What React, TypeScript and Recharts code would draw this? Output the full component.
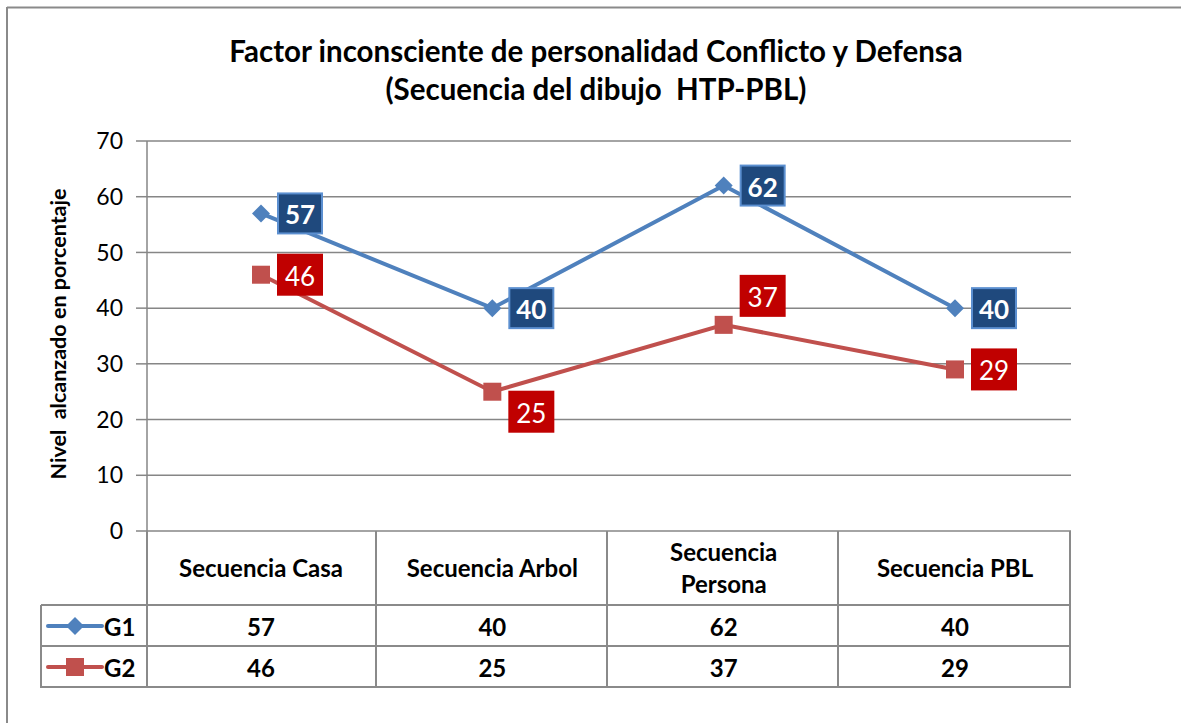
import { ComposedChart, Line, XAxis, YAxis, CartesianGrid } from "recharts";

const categories = ["Secuencia Casa", "Secuencia Arbol", "Secuencia Persona", "Secuencia PBL"];
const g1 = [57, 40, 62, 40];
const g2 = [46, 25, 37, 29];
const yTicks = [0, 10, 20, 30, 40, 50, 60, 70];

const data = categories.map((c, i) => ({ category: c, G1: g1[i], G2: g2[i] }));

// label box vertical shifts per point (relative to centred on the point)
const g2Shift = [0, 20, -29, 0];

const FONT = "Lato, 'Open Sans', sans-serif";
const GRID = "#868686";
const BLUE = "#4F81BD";
const RED = "#C0504D";

const Diamond = (props: any) => {
  const { cx, cy } = props;
  if (cx == null || cy == null) return null;
  const r = 9;
  return (
    <path
      d={`M${cx},${cy - r}L${cx + r},${cy}L${cx},${cy + r}L${cx - r},${cy}Z`}
      fill={BLUE}
    />
  );
};

const Square = (props: any) => {
  const { cx, cy } = props;
  if (cx == null || cy == null) return null;
  return <rect x={cx - 9} y={cy - 9} width={18} height={18} fill={RED} />;
};

const BoxLabel = (kind: "g1" | "g2") => (props: any) => {
  const { x, y, value, index } = props;
  const shift = kind === "g2" ? g2Shift[index] : 0;
  const bx = x + 17;
  const by = y - 20 + shift;
  return (
    <g>
      <rect
        x={bx}
        y={by}
        width={44}
        height={40}
        fill={kind === "g1" ? "#1F497D" : "#C00000"}
        stroke={kind === "g1" ? "#5B8FD0" : "#C00000"}
        strokeWidth={2}
      />
      <text
        x={bx + 22}
        y={by + 21}
        textAnchor="middle"
        dominantBaseline="central"
        fill="#fff"
        fontSize={26}
        fontWeight={kind === "g1" ? 700 : 400}
        fontFamily={FONT}
      >
        {value}
      </text>
    </g>
  );
};

const TableTick = (props: any) => {
  const { x, payload, index } = props;
  const name: string = payload.value;
  const lines = name === "Secuencia Persona" ? ["Secuencia", "Persona"] : [name];
  return (
    <g fontFamily={FONT} fontWeight={700} fontSize={24} fill="#000">
      {lines.map((l, i) => (
        <text
          key={l}
          x={x}
          y={lines.length === 1 ? 567 : 551 + i * 32}
          textAnchor="middle"
          dominantBaseline="central"
        >
          {l}
        </text>
      ))}
      <text x={x} y={626} textAnchor="middle" dominantBaseline="central">
        {g1[index]}
      </text>
      <text x={x} y={667} textAnchor="middle" dominantBaseline="central">
        {g2[index]}
      </text>
    </g>
  );
};

export default function App() {
  const tl = { stroke: "#8A8A8A", strokeWidth: 2 };
  return (
    <div style={{ position: "absolute", left: 0, top: 0, width: 1181, height: 723, background: "#fff" }}>
      <svg width={1181} height={723} style={{ position: "absolute", left: 0, top: 0 }}>
        <line x1={7} y1={7.5} x2={1181} y2={7.5} {...tl} />
        <line x1={7} y1={7} x2={7} y2={723} {...tl} />
        <text x={596} y={50} textAnchor="middle" dominantBaseline="central" fontFamily={FONT} fontWeight={700} fontSize={29.5}>
          Factor inconsciente de personalidad Conflicto y Defensa
        </text>
        <text x={596} y={88} textAnchor="middle" dominantBaseline="central" fontFamily={FONT} fontWeight={700} fontSize={29.5}>
          {"(Secuencia del dibujo \u00a0HTP-PBL)"}
        </text>
        <text
          x={58}
          y={334}
          transform="rotate(-90 58 334)"
          textAnchor="middle"
          dominantBaseline="central"
          fontFamily={FONT}
          fontWeight={700}
          fontSize={21.5}
        >
          {"Nivel \u00a0alcanzado en porcentaje"}
        </text>
      </svg>
      <div style={{ position: "absolute", left: 0, top: 0 }}>
        <ComposedChart
          width={1181}
          height={723}
          data={data}
          margin={{ top: 141, right: 110, bottom: 42, left: 87 }}
        >
          <CartesianGrid vertical={false} stroke={GRID} strokeWidth={1.5} />
          <XAxis
            dataKey="category"
            height={150}
            axisLine={false}
            tickLine={false}
            tick={<TableTick />}
            interval={0}
            padding={{ left: 114, right: 116 }}
          />
          <YAxis
            width={60}
            domain={[0, 70]}
            ticks={yTicks}
            tickSize={11}
            tickMargin={13}
            axisLine={{ stroke: GRID, strokeWidth: 1.5 }}
            tickLine={{ stroke: GRID, strokeWidth: 1.5 }}
            tick={{ fontSize: 23, fill: "#000", fontFamily: FONT }}
          />
          <Line
            dataKey="G1"
            stroke={BLUE}
            strokeWidth={4}
            dot={<Diamond />}
            activeDot={false}
            label={BoxLabel("g1")}
            isAnimationActive={false}
          />
          <Line
            dataKey="G2"
            stroke={RED}
            strokeWidth={4}
            dot={<Square />}
            activeDot={false}
            label={BoxLabel("g2")}
            isAnimationActive={false}
          />
        </ComposedChart>
      </div>
      <svg width={1181} height={723} style={{ position: "absolute", left: 0, top: 0, pointerEvents: "none" }}>
        <line x1={147} y1={531} x2={147} y2={688} {...tl} />
        <line x1={376} y1={531} x2={376} y2={688} {...tl} />
        <line x1={607} y1={531} x2={607} y2={688} {...tl} />
        <line x1={838} y1={531} x2={838} y2={688} {...tl} />
        <line x1={1070} y1={531} x2={1070} y2={688} {...tl} />
        <line x1={41} y1={605} x2={41} y2={688} {...tl} />
        <line x1={41} y1={605} x2={1071} y2={605} {...tl} />
        <line x1={41} y1={646} x2={1071} y2={646} {...tl} />
        <line x1={41} y1={687} x2={1071} y2={687} {...tl} />
        <line x1={48} y1={626} x2={102} y2={626} stroke={BLUE} strokeWidth={4} strokeLinecap="round" />
        <path d="M75,617L84,626L75,635L66,626Z" fill={BLUE} />
        <line x1={48} y1={667} x2={102} y2={667} stroke={RED} strokeWidth={4} strokeLinecap="round" />
        <rect x={66} y={658} width={18} height={18} fill={RED} />
        <text x={104} y={626} dominantBaseline="central" fontFamily={FONT} fontWeight={700} fontSize={24}>G1</text>
        <text x={104} y={667} dominantBaseline="central" fontFamily={FONT} fontWeight={700} fontSize={24}>G2</text>
      </svg>
    </div>
  );
}
